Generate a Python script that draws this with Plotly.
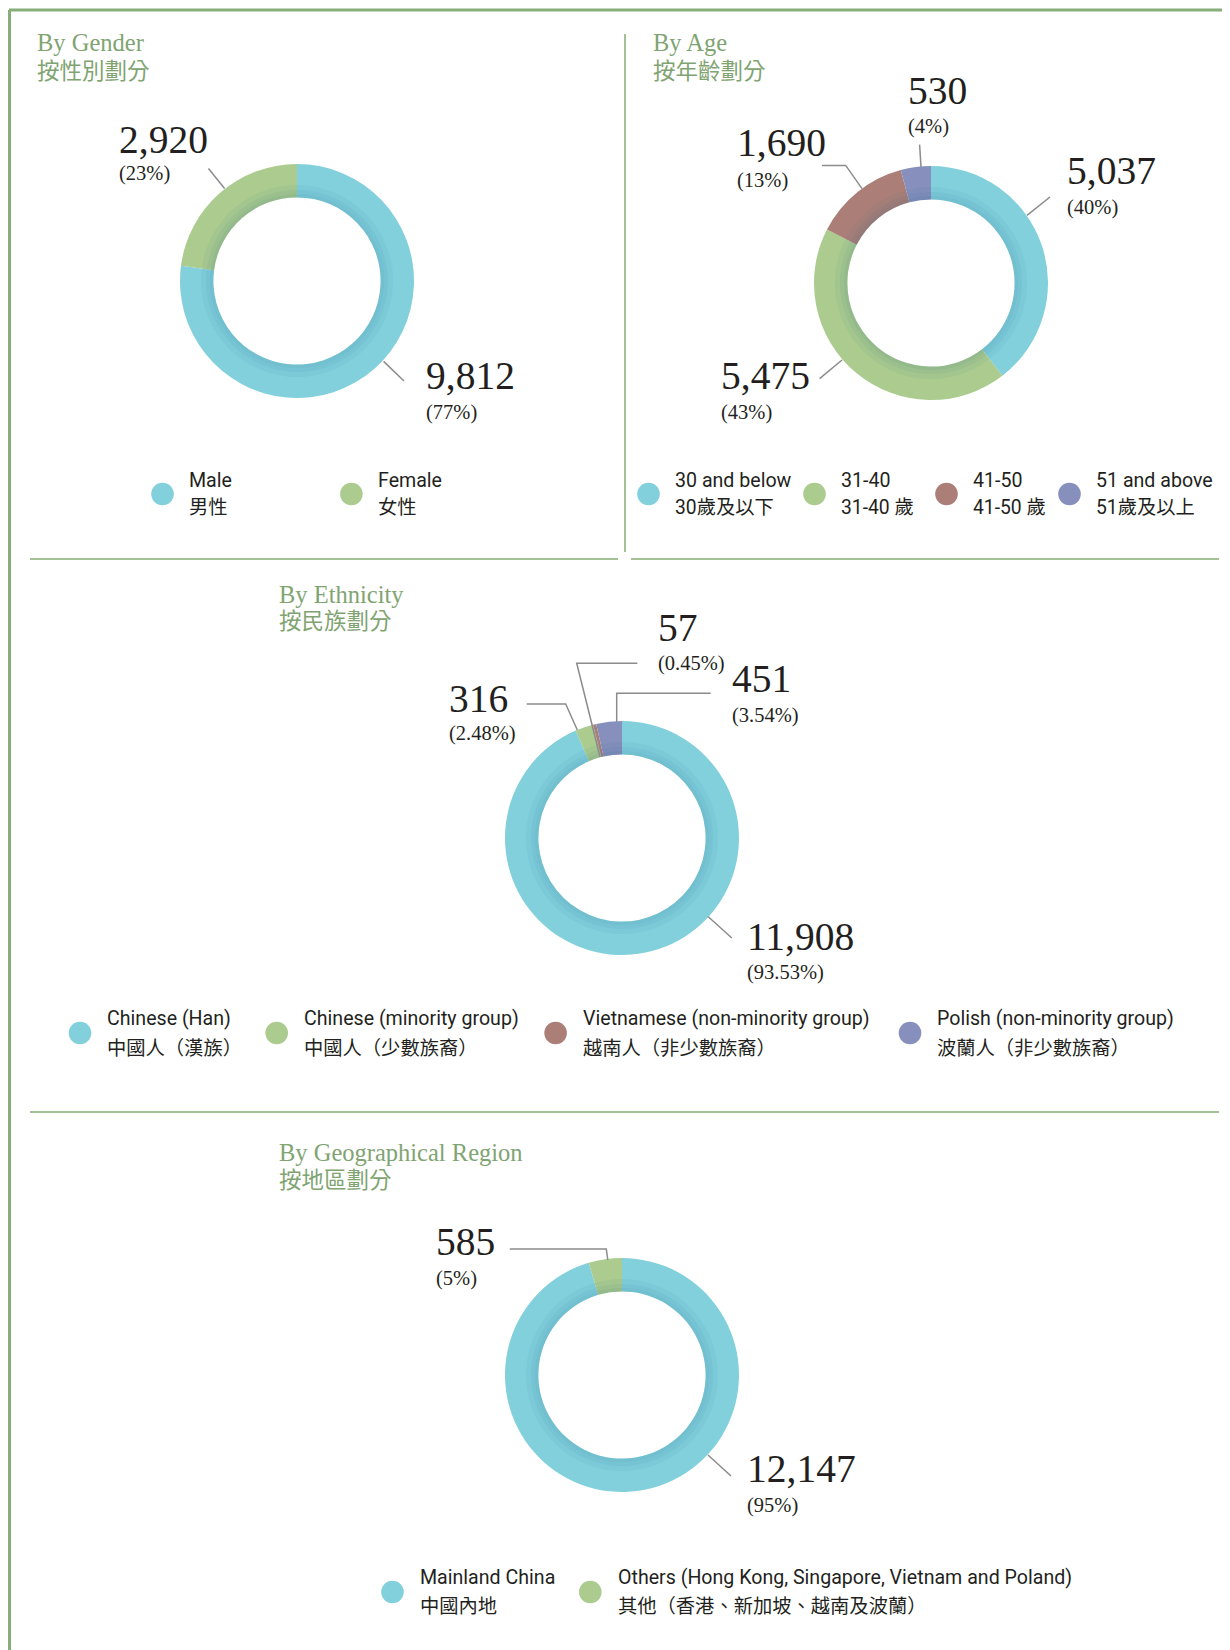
import plotly.graph_objects as go

W, H = 1230, 1650
OFF = 8  # the page body adds an 8px margin

# data
gender_labels = ['Male', 'Female']
gender_values = [9812, 2920]
gender_pct = ['77%', '23%']

age_labels = ['30 and below', '31-40', '41-50', '51 and above']
age_values = [5037, 5475, 1690, 530]
age_pct = ['40%', '43%', '13%', '4%']

eth_labels = ['Chinese (Han)', 'Chinese (minority group)', 'Vietnamese (non-minority group)', 'Polish (non-minority group)']
eth_values = [11908, 316, 57, 451]
eth_pct = ['93.53%', '2.48%', '0.45%', '3.54%']

geo_labels = ['Mainland China', 'Others (Hong Kong, Singapore, Vietnam and Poland)']
geo_values = [12147, 585]
geo_pct = ['95%', '5%']

# colours / fonts
cyan = '#82d0dc'
green = '#abcb8f'
brown = '#ab7f78'
purple = '#8790bc'
title_green = '#7fa472'
border_green = '#86ad7a'
divider_green = '#a3c195'
leader_grey = '#8c8c8c'
serif = 'Liberation Serif, Noto Sans CJK TC'
sans = 'Roboto, Noto Sans CJK TC'

R_OUT = 117
R_IN = 83.6


def px(x):
    return (x - OFF) / W


def py(y):
    return 1 - (y - OFF) / H


def dom(cx, cy, r):
    return dict(x=[px(cx - r), px(cx + r)], y=[py(cy + r), py(cy - r)])


fig = go.Figure()


def donut(values, labels, colors, cx, cy):
    fig.add_trace(go.Pie(values=values, labels=labels, sort=False, direction='clockwise',
                         rotation=0, hole=R_IN / R_OUT, textinfo='none',
                         marker=dict(colors=colors, line=dict(width=0)),
                         domain=dom(cx, cy, R_OUT), showlegend=False))
    # soft shadow on the inner edge
    for rr in [87, 91, 96]:
        fig.add_trace(go.Pie(values=values, labels=labels, sort=False, direction='clockwise',
                             rotation=0, hole=R_IN / rr, textinfo='none', hoverinfo='skip',
                             marker=dict(colors=['rgba(25,95,130,0.05)'] * len(values), line=dict(width=0)),
                             domain=dom(cx, cy, rr), showlegend=False))


donut(gender_values, gender_labels, [cyan, green], 297, 281)
donut(age_values, age_labels, [cyan, green, brown, purple], 931, 283)
donut(eth_values, eth_labels, [cyan, green, brown, purple], 622, 838)
donut(geo_values, geo_labels, [cyan, green], 622, 1375)

annotations = []
shapes = []


def text(t, x, y, size, color='#231f20', family=serif):
    annotations.append(dict(text=t, x=px(x), y=py(y), xref='paper', yref='paper',
                            xanchor='left', yanchor='middle', showarrow=False,
                            font=dict(size=size, color=color, family=family)))


def line(points, color=leader_grey, width=1.5):
    path = 'M ' + ' L '.join('%.5f,%.5f' % (px(x), py(y)) for x, y in points)
    shapes.append(dict(type='path', path=path, xref='paper', yref='paper',
                       line=dict(color=color, width=width)))


def value_label(value, pct, x, y_num, y_pct):
    text('{:,}'.format(value), x, y_num, 39.5)
    text('(%s)' % pct, x, y_pct, 20.5)


# frame
line([(9, 10), (1240, 10)], border_green, 3)
line([(9.5, 10), (9.5, 1660)], border_green, 3)
line([(30, 559), (618, 559)], divider_green, 2)
line([(631, 559), (1219, 559)], divider_green, 2)
line([(625, 34), (625, 552)], divider_green, 2)
line([(30, 1112), (1219, 1112)], divider_green, 2)

# titles
for (en, zh, x, y1, y2) in [('By Gender', '按性別劃分', 35, 42, 71),
                             ('By Age', '按年齡劃分', 651, 42, 71),
                             ('By Ethnicity', '按民族劃分', 277, 594, 622),
                             ('By Geographical Region', '按地區劃分', 277, 1152, 1180)]:
    text(en, x, y1, 24.5, title_green, serif)
    text(zh, x, y2, 22.5, title_green, serif)

# gender labels
value_label(gender_values[1], gender_pct[1], 117, 140, 174)
value_label(gender_values[0], gender_pct[0], 424, 376, 412)
line([(224.6, 188.6), (208.4, 168.6)])
line([(383.6, 361.4), (404, 381)])

# age labels
value_label(age_values[3], age_pct[3], 906, 91, 126)
value_label(age_values[2], age_pct[2], 735, 143, 180)
value_label(age_values[0], age_pct[0], 1065, 171, 207)
value_label(age_values[1], age_pct[1], 719, 376, 412)
line([(921, 167), (919.6, 144.6)])
line([(822, 165.4), (845.7, 165.4), (862, 188.6)])
line([(1027, 215.4), (1050, 197)])
line([(842, 360), (819.6, 378.6)])

# ethnicity labels
value_label(eth_values[2], eth_pct[2], 656, 628, 663)
value_label(eth_values[1], eth_pct[1], 447, 699, 734)
value_label(eth_values[3], eth_pct[3], 730, 679, 715)
value_label(eth_values[0], eth_pct[0], 745, 937, 972)
line([(526.7, 704), (565.7, 704), (577.3, 730)])
line([(637.3, 663.3), (576.7, 663.3), (600, 756.7)])
line([(710.7, 693.3), (616.7, 693.3), (616.7, 722)])
line([(708, 916.5), (731.8, 938)])

# geo labels
value_label(geo_values[1], geo_pct[1], 434, 1242, 1278)
value_label(geo_values[0], geo_pct[0], 745, 1469, 1505)
line([(509.8, 1249), (606.3, 1249), (607.8, 1260)])
line([(708, 1455), (731, 1476)])


# legends
def legend(labels, zh, colors, circle_x, text_x, cy, y1, y2):
    for lab, z, c, cxp, tx in zip(labels, zh, colors, circle_x, text_x):
        d = 11.3
        shapes.append(dict(type='circle', xref='paper', yref='paper',
                           x0=px(cxp - d), x1=px(cxp + d), y0=py(cy + d), y1=py(cy - d),
                           fillcolor=c, line=dict(width=0)))
        text(lab, tx - 1.5, y1, 19.6, '#231f20', sans)
        text(z, tx - 1.5, y2, 19.3, '#231f20', sans)


legend(gender_labels, ['男性', '女性'], [cyan, green], [162.5, 351.4], [188, 377.5], 494, 480, 508)
legend(age_labels, ['30歲及以下', '31-40 歲', '41-50 歲', '51歲及以上'], [cyan, green, brown, purple],
       [648.5, 814.5, 946.5, 1069.5], [674.5, 840, 972, 1095.5], 494, 480, 508)
legend(eth_labels, ['中國人（漢族）', '中國人（少數族裔）', '越南人（非少數族裔）', '波蘭人（非少數族裔）'],
       [cyan, green, brown, purple], [80, 276.7, 555.6, 910], [106, 303, 582, 936.5], 1033, 1019, 1048)
legend(geo_labels, ['中國內地', '其他（香港、新加坡、越南及波蘭）'], [cyan, green],
       [392.5, 590.3], [419.5, 617.5], 1592, 1577, 1606)

fig.update_layout(width=W, height=H, margin=dict(l=0, r=0, t=0, b=0),
                  paper_bgcolor='white', plot_bgcolor='white',
                  annotations=annotations, shapes=shapes, showlegend=False)
fig.write_html('out.html')
